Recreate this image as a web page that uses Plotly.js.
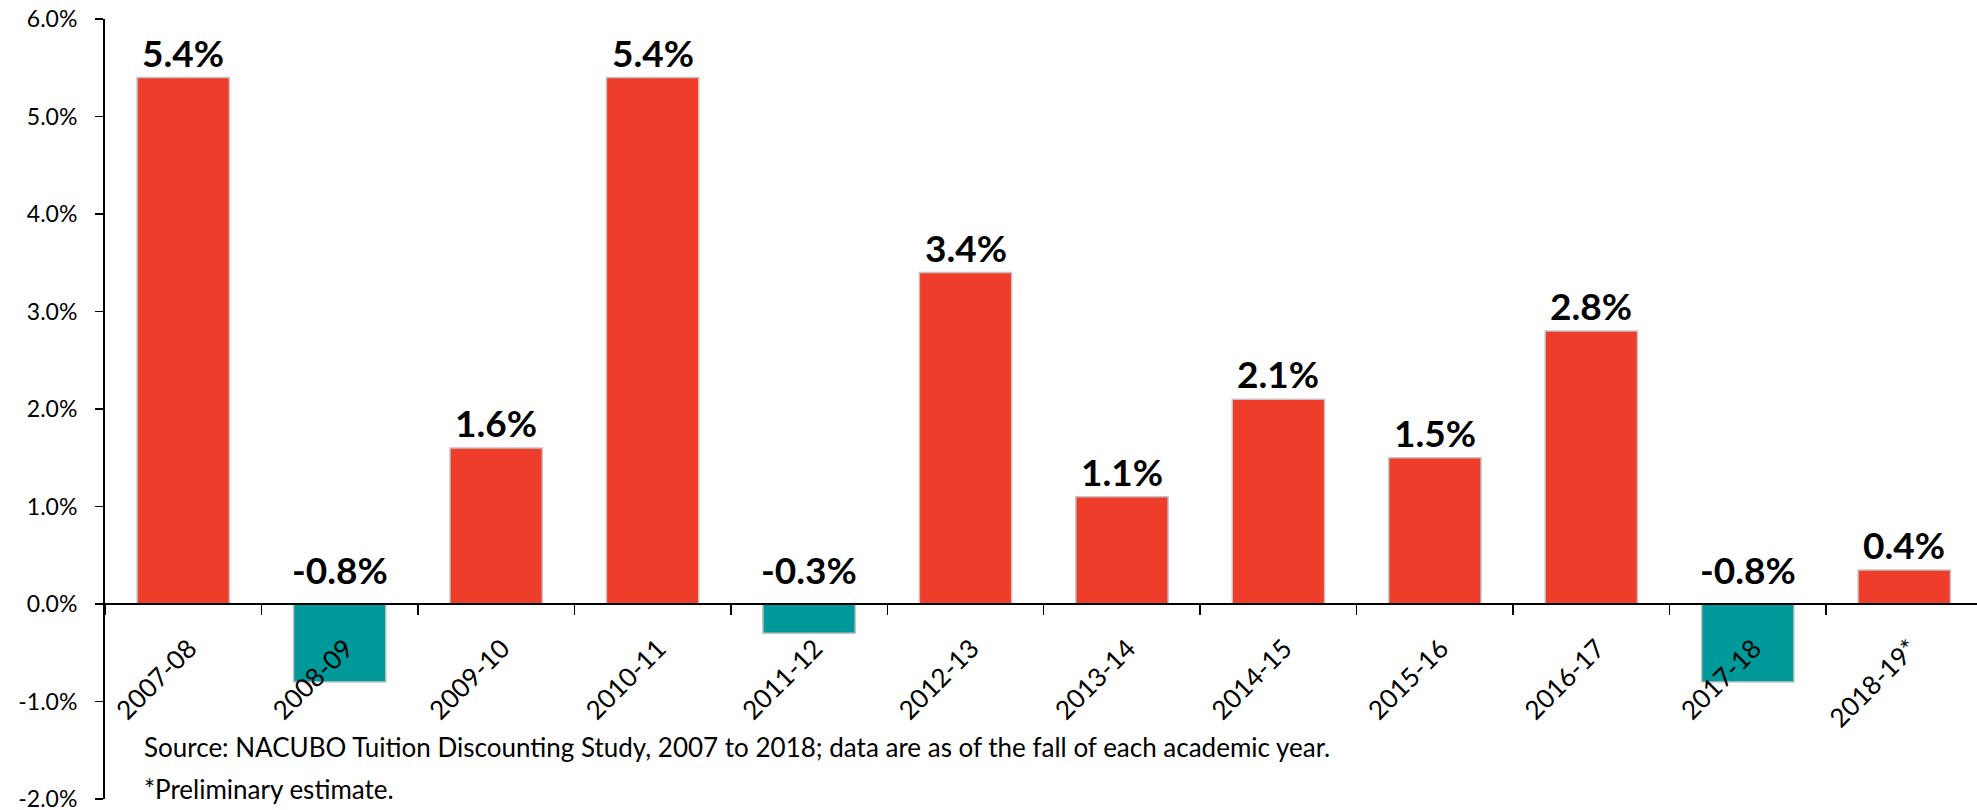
<!DOCTYPE html>
<html>
<head>
<meta charset="utf-8">
<script src="https://cdn.plot.ly/plotly-3.0.1.min.js"></script>
<style>html,body{margin:0;padding:0;background:#fff;}#chart{width:1977px;height:810px;}</style>
</head>
<body>
<div id="chart"></div>
<script>
const categories = ["2007-08","2008-09","2009-10","2010-11","2011-12","2012-13","2013-14","2014-15","2015-16","2016-17","2017-18","2018-19*"];
const values = [5.4, -0.8, 1.6, 5.4, -0.3, 3.4, 1.1, 2.1, 1.5, 2.8, -0.8, 0.35];
const valueLabels = ["5.4%","-0.8%","1.6%","5.4%","-0.3%","3.4%","1.1%","2.1%","1.5%","2.8%","-0.8%","0.4%"];
const yTickValues = [-2, -1, 0, 1, 2, 3, 4, 5, 6];
const yTickLabels = ["-2.0%","-1.0%","0.0%","1.0%","2.0%","3.0%","4.0%","5.0%","6.0%"];
const sourceNote = "Source: NACUBO Tuition Discounting Study, 2007 to 2018; data are as of the fall of each academic year.";
const footNote = "*Preliminary estimate.";

const RED = "#EE3D2B", TEAL = "#009999";
const FONT = "Lato, 'Open Sans', sans-serif";

const trace = {
  type: "bar",
  x: categories,
  y: values,
  marker: {
    color: values.map(v => v < 0 ? TEAL : RED),
    line: {color: "#c4c4c4", width: 1.5}
  },
  hoverinfo: "skip"
};

const annotations = categories.map((c, i) => ({
  x: c, y: Math.max(values[i], 0), xref: "x", yref: "y",
  text: "<b>" + valueLabels[i] + "</b>",
  showarrow: false, yanchor: "bottom", yshift: values[i] < 0 ? 10 : 1,
  font: {family: FONT, size: 37, color: "#000"}
}));
annotations.push({
  xref: "paper", yref: "paper", x: 0.02, y: 0.043, xanchor: "left", yanchor: "bottom",
  text: sourceNote, showarrow: false, font: {family: FONT, size: 26, color: "#000"}
});
annotations.push({
  xref: "paper", yref: "paper", x: 0.02, y: -0.01, xanchor: "left", yanchor: "bottom",
  text: footNote, showarrow: false, font: {family: FONT, size: 26, color: "#000"}
});

const layout = {
  width: 1977, height: 810,
  margin: {l: 105, r: 0, t: 19, b: 11, pad: 0},
  paper_bgcolor: "#fff", plot_bgcolor: "#fff",
  showlegend: false,
  bargap: 0.41,
  font: {family: FONT, color: "#000"},
  xaxis: {
    type: "category",
    range: [-0.5, 11.465],
    anchor: "free", position: 0.25,
    showline: true, linecolor: "#000", linewidth: 2,
    ticks: "outside", ticklen: 10, tickwidth: 1.5, tickcolor: "#000",
    tickson: "boundaries",
    tickangle: -45,
    ticklabelstandoff: 18, ticklabelshift: 6,
    tickfont: {family: FONT, size: 26, color: "#000"},
    showgrid: false, zeroline: false, fixedrange: true
  },
  yaxis: {
    range: [-2, 6],
    tickvals: yTickValues, ticktext: yTickLabels,
    showline: true, linecolor: "#000", linewidth: 2,
    ticks: "outside", ticklen: 8, tickwidth: 1.5, tickcolor: "#000",
    ticklabelstandoff: 13, ticklabeloverflow: "allow",
    tickfont: {family: FONT, size: 23, color: "#000"},
    showgrid: false, zeroline: false, fixedrange: true
  },
  annotations: annotations
};

Plotly.newPlot("chart", [trace], layout, {displayModeBar: false, staticPlot: true});
</script>
</body>
</html>
